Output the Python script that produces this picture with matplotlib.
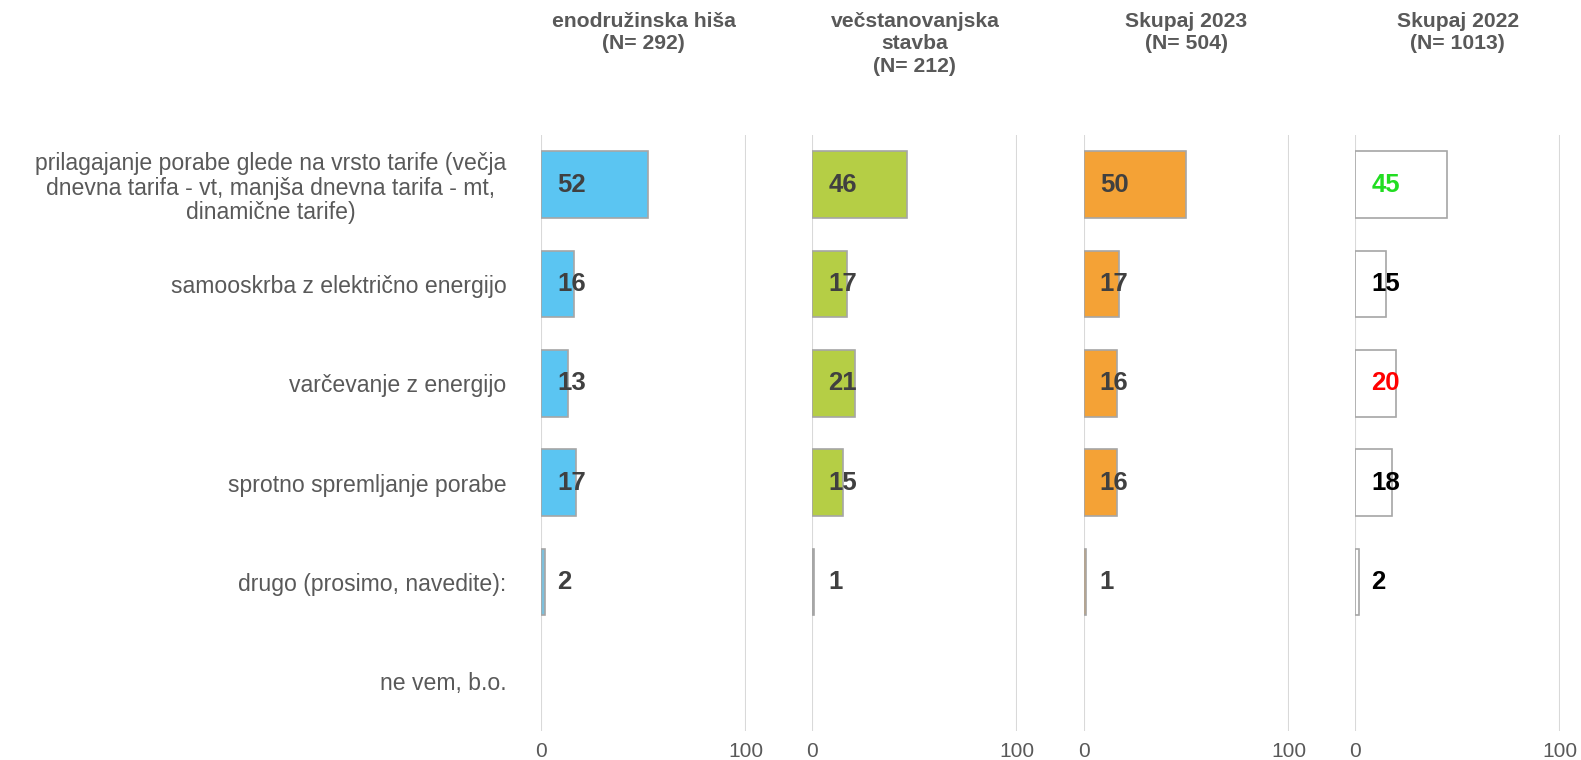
import os
import matplotlib
matplotlib.use("Agg")
import matplotlib.pyplot as plt
from matplotlib import font_manager as fm

categories = [
    "prilagajanje porabe glede na vrsto tarife (večja\ndnevna tarifa - vt, manjša dnevna tarifa - mt,\ndinamične tarife)",
    "samooskrba z električno energijo",
    "varčevanje z energijo",
    "sprotno spremljanje porabe",
    "drugo (prosimo, navedite):",
    "ne vem, b.o.",
]
titles = [
    "enodružinska hiša\n(N= 292)",
    "večstanovanjska\nstavba\n(N= 212)",
    "Skupaj 2023\n(N= 504)",
    "Skupaj 2022\n(N= 1013)",
]
enodruzinska = [52, 16, 13, 17, 2, None]
vecstanovanjska = [46, 17, 21, 15, 1, None]
skupaj_2023 = [50, 17, 16, 16, 1, None]
skupaj_2022 = [45, 15, 20, 18, 2, None]
series = [enodruzinska, vecstanovanjska, skupaj_2023, skupaj_2022]

fill_colors = ["#5BC5F2", "#B5CE45", "#F4A236", "#FFFFFF"]
small_fill = ["#7DBFDB", "#A6A6A6", "#F4A236", "#FFFFFF"]
label_colors = [
    ["#404040"] * 6,
    ["#404040"] * 6,
    ["#404040"] * 6,
    ["#22DD22", "#000000", "#FF0000", "#000000", "#000000", "#000000"],
]


def find_font(basename):
    for f in fm.fontManager.ttflist:
        if os.path.basename(f.fname) == basename:
            return f.fname
    return None


reg_file = find_font("LiberationSans-Regular.ttf")
bold_file = find_font("LiberationSans-Bold.ttf")


def fp(size, bold=False):
    f = bold_file if bold else reg_file
    if f:
        return fm.FontProperties(fname=f, size=size)
    return fm.FontProperties(family="DejaVu Sans", size=size,
                             weight="bold" if bold else "normal")


fig = plt.figure(figsize=(15.81, 7.6), dpi=100)
W, H = 1581.0, 760.0
left0 = 541 / W
axw = 205 / W
step = 271.4 / W
bottom = 1 - 731 / H
height = (731 - 135) / H

ypos = list(range(len(categories)))
for i, vals in enumerate(series):
    ax = fig.add_axes([left0 + i * step, bottom, axw, height])
    for j, v in enumerate(vals):
        if v is None:
            continue
        fc = fill_colors[i] if v >= 5 else small_fill[i]
        ax.barh(j, v, height=0.67, color=fc, edgecolor="#A6A6A6", linewidth=1.2, zorder=3)
        ax.text(7.8, j, str(v), ha="left", va="center", fontproperties=fp(18.5, True),
                color=label_colors[i][j], zorder=4)
    ax.set_xlim(0, 100)
    ax.set_ylim(len(categories) - 0.5, -0.5)
    ax.set_xticks([0, 100])
    ax.xaxis.grid(True, color="#D9D9D9", linewidth=1.5, zorder=0)
    ax.set_axisbelow(True)
    for s in ax.spines.values():
        s.set_visible(False)
    ax.tick_params(axis="x", length=0, pad=8, labelcolor="#595959")
    for lab in ax.get_xticklabels():
        lab.set_fontproperties(fp(15))
    ax.set_yticks(ypos)
    if i == 0:
        ax.set_yticklabels(categories, color="#595959", multialignment="center")
        for lab in ax.get_yticklabels():
            lab.set_fontproperties(fp(16.6))
            lab.set_linespacing(1.1)
        ax.tick_params(axis="y", length=0, pad=25)
    else:
        ax.set_yticklabels([])
        ax.tick_params(axis="y", length=0)
    cx = left0 + i * step + axw / 2
    fig.text(cx, 1 - 12 / H, titles[i], ha="center", va="top", fontproperties=fp(15.2, True),
             color="#595959", linespacing=1.22)

fig.savefig("out.png", dpi=100)
